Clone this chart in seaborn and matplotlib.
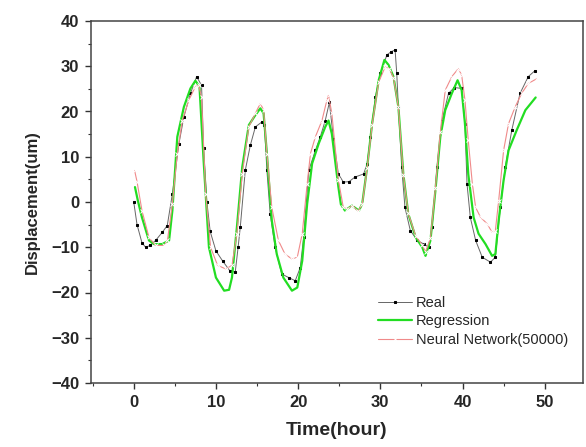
import numpy as np
import pandas as pd
import matplotlib
matplotlib.use("Agg")
import matplotlib.pyplot as plt
from matplotlib.ticker import MultipleLocator
import seaborn as sns

# === Data ===
real_t = [0, 0.4, 1.0, 1.44, 2.0, 2.66, 3.47, 4.08, 4.7, 5.5, 6.1, 6.9, 7.65, 8.25, 8.5, 8.9,
          9.3, 10.0, 10.8, 11.7, 12.35, 12.7, 12.96, 13.57, 14.18, 14.8, 15.6, 15.9, 16.2, 16.6,
          17.2, 18.0, 18.85, 19.65, 20.26, 20.67, 21.3, 22.1, 22.7, 23.3, 23.8, 24.3, 24.9, 25.5,
          26.2, 26.9, 27.97, 28.4, 28.8, 29.4, 30.0, 30.8, 31.3, 31.8, 32.0, 32.2, 32.6, 33.0,
          33.65, 34.5, 35.3, 35.9, 36.3, 36.9, 37.5, 38.3, 39.0, 39.9, 40.3, 40.55, 40.95, 41.6,
          42.4, 43.4, 44.0, 44.6, 45.2, 46.0, 47.0, 48.0, 48.8]
real_v = [0, -5, -9, -10, -9.6, -8.5, -6.7, -5.2, 1.8, 12.9, 18.8, 24, 27.7, 25.8, 12, 0,
          -6.5, -10.8, -13, -15.2, -15.5, -10, -5.6, 7, 12.5, 16.6, 17.7, 17, 7, -2.6,
          -10, -15.9, -16.7, -17.4, -14.5, -7.8, 7, 11.4, 14.4, 18, 22, 14, 6.2, 4.4,
          4.5, 5.5, 6.2, 8.5, 14.4, 23.2, 28.4, 32.5, 33.2, 33.6, 28.4, 21, 7.7, -1.2,
          -6.3, -8.5, -9.3, -10, -5.6, 7.7, 18, 24, 25.3, 25.1, 17.3, 4, -3.4, -8.5,
          -12.2, -13.3, -12.2, -1.2, 7.7, 15.9, 24, 27.7, 29]

reg_t = [0.15, 0.5, 1.0, 1.85, 2.46, 3.47, 4.3, 4.7, 5.3, 6.1, 6.9, 7.5, 8.0, 8.5, 9.15, 10.0,
         11.0, 11.6, 11.95, 12.55, 13.2, 14.0, 14.8, 15.4, 15.8, 16.2, 16.8, 17.4, 18.2, 19.25,
         19.9, 20.5, 21.1, 21.7, 22.5, 23.3, 23.7, 24.1, 24.9, 25.2, 25.7, 26.55, 27.4, 27.8,
         28.4, 29.0, 29.8, 30.5, 31.0, 31.6, 32.2, 32.8, 33.4, 34.3, 35.1, 35.5, 36.1, 36.7,
         37.3, 37.9, 38.7, 39.4, 39.9, 40.3, 40.7, 41.35, 41.95, 42.8, 43.6, 44.0, 44.4, 45.0,
         45.6, 46.6, 47.65, 48.9]
reg_v = [3.3, 0.3, -3.4, -8.5, -9.3, -9.3, -8.5, -1.9, 14.4, 21, 25.1, 26.8, 25.5, 9.2, -10, -16.7,
         -19.6, -19.4, -16.7, -5.6, 7.7, 17, 19.2, 20.7, 19.6, 10.7, -4.1, -11.5, -16.7, -19.6,
         -18.9, -13, -0.4, 8.5, 12.9, 16.6, 18, 15.1, 3.3, -0.5, -1.9, -0.8, -1.9, -0.4,
         7.7, 17.3, 26.9, 31.4, 30.3, 27.7, 21, 6.2, -2.6, -7.8, -10, -11.9, -8.5, 2.5,
         14.4, 20.3, 24, 26.9, 24.7, 17.3, 6.2, -3.4, -7, -9.3, -11.9, -11.5, -4.1, 4.8,
         11.4, 15.9, 20.3, 23.1]

nn_t = [0.1, 0.4, 1.0, 1.85, 2.65, 3.7, 4.1, 4.7, 5.3, 5.9, 6.7, 7.5, 7.9, 8.25, 8.75, 9.35,
        10.2, 11.2, 11.95, 12.55, 13.2, 14.0, 14.8, 15.4, 15.8, 16.2, 16.8, 17.6, 18.4, 19.25,
        19.9, 20.5, 21.1, 21.5, 22.1, 22.9, 23.5, 23.7, 24.1, 24.9, 25.5, 26.0, 26.6, 27.3,
        27.8, 28.4, 29.0, 29.8, 30.6, 31.1, 31.6, 32.2, 32.8, 33.4, 34.3, 35.1, 35.5, 36.1,
        36.7, 37.3, 37.9, 38.7, 39.5, 39.9, 40.3, 40.7, 41.2, 41.6, 42.2, 43.0, 43.6, 44.0,
        44.4, 45.0, 45.6, 46.4, 47.2, 48.0, 49.1]
nn_v = [7, 4.5, -1.9, -7.8, -9.6, -9.6, -8.5, -0.4, 10.7, 18, 22.5, 25.5, 25.8, 23.2, 1.8, -10,
        -14, -14.8, -14, -7, 6.2, 16.6, 19.6, 21.8, 20.3, 10.7, -1.2, -8.5, -11.5, -12.6,
        -12.2, -7, 4, 10.7, 14.4, 18, 22.5, 23.6, 19.6, 4.8, -1.2, -1.5, -0.8, -2,
        -0.5, 7.5, 17, 26.5, 29.9, 29.5, 27.5, 21, 6, -2.5, -7.5, -9.5, -11, -8,
        3, 15.5, 24.7, 27.7, 29.5, 28, 22.5, 13.6, 4, -1.2, -3.4, -4.8, -6.7, -6.3,
        0.3, 11.4, 17.3, 21, 24, 26.2, 27.3]

# === Style ===
sns.set_style("white")
plt.rcParams["font.family"] = ["Liberation Sans", "DejaVu Sans"]

fig = plt.figure(figsize=(5.86, 4.47), dpi=100)
ax = fig.add_axes([91 / 586, 1 - 383 / 447, (582.5 - 91) / 586, (383 - 21) / 447])

sns.lineplot(x=real_t, y=real_v, ax=ax, sort=False, estimator=None, color="#666666",
             linewidth=0.7, marker="s", markersize=2.0, markerfacecolor="black",
             markeredgecolor="black", label="Real")
sns.lineplot(x=reg_t, y=reg_v, ax=ax, sort=False, estimator=None, color="#22dd22",
             linewidth=1.6, label="Regression")
sns.lineplot(x=nn_t, y=nn_v, ax=ax, sort=False, estimator=None, color="#f08a8a",
             linewidth=0.8, marker="x", markersize=2.6, markeredgewidth=0.7,
             label="Neural Network(50000)")

ax.set_xlim(-5.2, 54.6)
ax.set_ylim(-40, 40)
ax.xaxis.set_major_locator(MultipleLocator(10))
ax.xaxis.set_minor_locator(MultipleLocator(5))
ax.yaxis.set_major_locator(MultipleLocator(10))
ax.yaxis.set_minor_locator(MultipleLocator(5))
ax.tick_params(which="major", direction="out", length=4.5, width=1, color="#333333",
               labelsize=12, bottom=True, left=True, top=False, right=False, pad=4)
ax.tick_params(which="minor", direction="out", length=2.5, width=0.8, color="#333333",
               bottom=True, left=True, top=False, right=False)
for lab in ax.get_xticklabels() + ax.get_yticklabels():
    lab.set_fontweight("bold")

for side in ["left", "right", "top", "bottom"]:
    ax.spines[side].set_visible(True)
    ax.spines[side].set_color("#444444")
    ax.spines[side].set_linewidth(1.1)

ax.set_xlabel("Time(hour)", fontsize=14, fontweight="bold", labelpad=9)
ax.set_ylabel("Displacement(um)", fontsize=12, fontweight="bold", labelpad=8)

ax.legend(loc="upper left", bbox_to_anchor=(378 / 586, 1 - 296 / 447),
          bbox_transform=fig.transFigure, frameon=False, fontsize=10.5,
          borderpad=0, borderaxespad=0, handlelength=2.3, handletextpad=0.3,
          labelspacing=0.3, numpoints=1)

fig.savefig("out.png", dpi=100)
